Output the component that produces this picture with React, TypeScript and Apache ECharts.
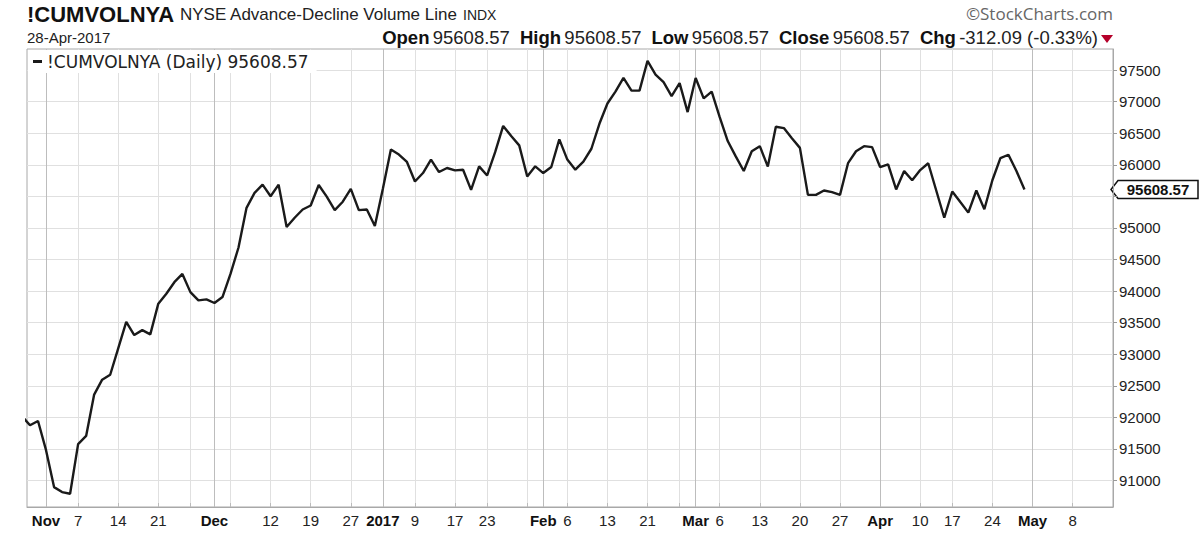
import React, { useEffect, useRef } from 'react';
import * as echarts from 'echarts';

// ---- trading days (categories) ----
const oct2016 = [27, 28, 31];
const nov2016 = [1, 2, 3, 4, 7, 8, 9, 10, 11, 14, 15, 16, 17, 18, 21, 22, 23, 25, 28, 29, 30];
const dec2016 = [1, 2, 5, 6, 7, 8, 9, 12, 13, 14, 15, 16, 19, 20, 21, 22, 23, 27, 28, 29, 30];
const jan2017 = [3, 4, 5, 6, 9, 10, 11, 12, 13, 17, 18, 19, 20, 23, 24, 25, 26, 27, 30, 31];
const feb2017 = [1, 2, 3, 6, 7, 8, 9, 10, 13, 14, 15, 16, 17, 21, 22, 23, 24, 27, 28];
const mar2017 = [1, 2, 3, 6, 7, 8, 9, 10, 13, 14, 15, 16, 17, 20, 21, 22, 23, 24, 27, 28, 29, 30, 31];
const apr2017 = [3, 4, 5, 6, 7, 10, 11, 12, 13, 17, 18, 19, 20, 21, 24, 25, 26, 27, 28];
const may2017 = [1, 2, 3, 4, 5, 8, 9, 10, 11, 12, 15];

// ---- series values (Oct 27 2016 .. Apr 28 2017) ----
const cumVol = [
  92020, 91874, 91942,
  91480, 90895, 90816, 90790, 91576, 91706, 92361, 92597, 92675, 93094, 93513, 93303, 93382, 93314, 93801, 93958, 94141, 94272, 93984, 93853, 93869,
  93811, 93906, 94272, 94691, 95319, 95555, 95686, 95503, 95686, 95016, 95162, 95293, 95356, 95680, 95496, 95282, 95416, 95619, 95282, 95293, 95031,
  95620, 96244, 96163, 96046, 95736, 95870, 96083, 95886, 95950, 95912, 95923, 95603, 95976, 95832, 96200, 96617, 96457, 96308, 95816, 95976,
  95870, 95966, 96404, 96083, 95923, 96050, 96255, 96650, 96971, 97160, 97376, 97176, 97176, 97646, 97430, 97311, 97090, 97295, 96836,
  97376, 97052, 97160, 96755, 96377, 96134, 95902, 96215, 96296, 95972, 96604, 96582, 96420, 96269, 95524, 95524, 95594, 95567, 95524, 96026, 96215, 96296, 96280,
  95965, 96009, 95610, 95901, 95756, 95917, 96025, 95594, 95162, 95578, 95410, 95243, 95594, 95297, 95756, 96106, 96160, 95901, 95608.57,
];

// ---- x tick labels ----
const tickDates = [
  '2016-11-01', '2016-11-07', '2016-11-14', '2016-11-21', '2016-12-01', '2016-12-12', '2016-12-19', '2016-12-27',
  '2017-01-03', '2017-01-09', '2017-01-17', '2017-01-23', '2017-02-01', '2017-02-06', '2017-02-13', '2017-02-21',
  '2017-03-01', '2017-03-06', '2017-03-13', '2017-03-20', '2017-03-27', '2017-04-03', '2017-04-10', '2017-04-17',
  '2017-04-24', '2017-05-01', '2017-05-08',
];
const tickLabels = ['Nov', '7', '14', '21', 'Dec', '12', '19', '27', '2017', '9', '17', '23', 'Feb', '6', '13', '21', 'Mar', '6', '13', '20', '27', 'Apr', '10', '17', '24', 'May', '8'];
const extraWeekDates = ['2016-11-28', '2016-12-05', '2017-01-30', '2017-02-27'];
const monthDates = ['2016-11-01', '2016-12-01', '2017-01-03', '2017-02-01', '2017-03-01', '2017-04-03', '2017-05-01'];

// ---- y ticks (95500 sits under the last-value tag) ----
const yTicks = [91000, 91500, 92000, 92500, 93000, 93500, 94000, 94500, 95000, 95500, 96000, 96500, 97000, 97500];
const yLabelTicks = [91000, 91500, 92000, 92500, 93000, 93500, 94000, 94500, 95000, 96000, 96500, 97000, 97500];

// ---- header texts ----
const symbol = '!CUMVOLNYA';
const symbolName = 'NYSE Advance-Decline Volume Line';
const exchange = 'INDX';
const quoteDate = '28-Apr-2017';
const ohlcNames = ['Open', 'High', 'Low', 'Close'];
const ohlcValues = ['95608.57', '95608.57', '95608.57', '95608.57'];
const changeText = '-312.09 (-0.33%)';
const legendText = '!CUMVOLNYA (Daily) 95608.57';
const lastText = '95608.57';

const pad = (n: number) => (n < 10 ? '0' + n : '' + n);
const build = (y: number, m: number, days: number[]) => days.map((d) => `${y}-${pad(m)}-${pad(d)}`);
const dates = [
  ...build(2016, 10, oct2016), ...build(2016, 11, nov2016), ...build(2016, 12, dec2016),
  ...build(2017, 1, jan2017), ...build(2017, 2, feb2017), ...build(2017, 3, mar2017),
  ...build(2017, 4, apr2017), ...build(2017, 5, may2017),
];
const idx = (d: string) => dates.indexOf(d);

const FONT = 'Liberation Sans, Arial, sans-serif';

export default function App() {
  const ref = useRef<HTMLDivElement>(null);
  useEffect(() => {
    if (!ref.current) return;
    const chart = echarts.init(ref.current, undefined, { renderer: 'svg' });
    const xMin = 0.626;
    const xMax = dates.length - 1 + 0.04;
    const labelKs = tickDates.map(idx);
    const weekKs = [...tickDates, ...extraWeekDates].map(idx).filter((k) => k > xMin && k < xMax).sort((a, b) => a - b);
    const monthKs = monthDates.map(idx);
    const boldSet = new Set(['Nov', 'Dec', '2017', 'Feb', 'Mar', 'Apr', 'May']);

    chart.setOption({
      animation: false,
      backgroundColor: '#fff',
      grid: { left: 27, right: 87, top: 49, bottom: 27, show: true, borderColor: '#a8a8a8', borderWidth: 1, backgroundColor: '#fff' },
      legend: {
        show: true, left: 28, top: 50, icon: 'rect', itemWidth: 9, itemHeight: 3, padding: [3, 8, 3, 5],
        backgroundColor: '#fff', formatter: () => legendText,
        textStyle: { fontFamily: 'DejaVu Sans', fontSize: 17, color: '#222' },
      },
      xAxis: [
        {
          type: 'value', min: xMin, max: xMax, position: 'bottom',
          axisLine: { show: true, lineStyle: { color: '#a8a8a8' } },
          axisTick: { show: true, inside: true, length: 4, customValues: weekKs, lineStyle: { color: '#bbbbbb' } },
          axisLabel: {
            customValues: labelKs, margin: 6, fontFamily: FONT, fontSize: 15, color: '#222',
            formatter: (v: number) => {
              const t = tickLabels[labelKs.indexOf(Math.round(v))] ?? '';
              return boldSet.has(t) ? `{b|${t}}` : t;
            },
            rich: { b: { fontFamily: FONT, fontSize: 15, fontWeight: 'bold', color: '#111' } },
          },
          splitLine: { show: true, lineStyle: { color: '#e0e0e0', width: 1 } },
        },
        {
          type: 'value', min: xMin, max: xMax, position: 'top',
          axisLine: { show: false }, axisLabel: { show: false },
          axisTick: { show: false, customValues: monthKs },
          splitLine: { show: true, lineStyle: { color: '#bdbdbd', width: 1 } },
        },
      ],
      yAxis: {
        type: 'value', position: 'right', min: 90580, max: 97835,
        axisLine: { show: true, lineStyle: { color: '#a8a8a8' } },
        axisTick: { show: true, length: 4, customValues: yTicks, lineStyle: { color: '#999' } },
        axisLabel: {
          customValues: yLabelTicks, margin: 6, fontFamily: FONT, fontSize: 15, color: '#222',
          formatter: (v: number) => String(Math.round(v)),
        },
        splitLine: { show: true, lineStyle: { color: '#e0e0e0', width: 1 } },
      },
      series: [
        {
          name: symbol, type: 'line', xAxisIndex: 0, yAxisIndex: 0,
          data: cumVol.map((v, k) => [k, v]),
          showSymbol: false, clip: true,
          lineStyle: { color: '#1a1a1a', width: 2.4 },
          itemStyle: { color: '#1a1a1a' },
        },
      ],
    });

    const py = chart.convertToPixel({ yAxisIndex: 0 }, cumVol[cumVol.length - 1]) as number;
    const ohlcRich = ohlcNames.map((n, i) => `{b|${n}} {n|${ohlcValues[i]}}`).join('   ') + `   {b|Chg} {n|${changeText}}`;
    chart.setOption({
      graphic: [
        { type: 'text', x: 27, y: 3, style: { text: symbol, fontFamily: FONT, fontSize: 22, fontWeight: 'bold', fill: '#111', verticalAlign: 'top' } },
        { type: 'text', x: 180, y: 6, style: { text: symbolName, fontFamily: FONT, fontSize: 17, fill: '#222', verticalAlign: 'top' } },
        { type: 'text', x: 463, y: 8, style: { text: exchange, fontFamily: FONT, fontSize: 14, fill: '#222', verticalAlign: 'top' } },
        { type: 'text', x: 27, y: 30, style: { text: quoteDate, fontFamily: FONT, fontSize: 15, fill: '#222', verticalAlign: 'top' } },
        {
          type: 'text', x: 1098, y: 28,
          style: {
            text: ohlcRich, align: 'right', verticalAlign: 'top', fill: '#222',
            rich: {
              b: { fontFamily: FONT, fontSize: 18.5, fontWeight: 'bold', fill: '#111' },
              n: { fontFamily: FONT, fontSize: 18.5, fill: '#222' },
            },
          },
        },
        { type: 'polygon', shape: { points: [[1101, 35], [1113, 35], [1107, 43]] }, style: { fill: '#b5002a' } },
        { type: 'text', x: 1113, y: 5, style: { text: '©StockCharts.com', fontFamily: 'Open Sans', fontSize: 17, fill: '#666', align: 'right', verticalAlign: 'top' } },
        {
          type: 'polygon',
          shape: { points: [[1111, py], [1118, py - 9], [1198, py - 9], [1198, py + 9], [1118, py + 9]] },
          style: { fill: '#fff', stroke: '#111', lineWidth: 1.5 },
        },
        { type: 'text', x: 1158, y: py, style: { text: lastText, fontFamily: FONT, fontSize: 15, fontWeight: 'bold', fill: '#111', align: 'center', verticalAlign: 'middle' } },
      ],
    });
    return () => chart.dispose();
  }, []);
  return <div ref={ref} style={{ position: 'fixed', left: 0, top: 0, width: 1200, height: 534 }} />;
}
